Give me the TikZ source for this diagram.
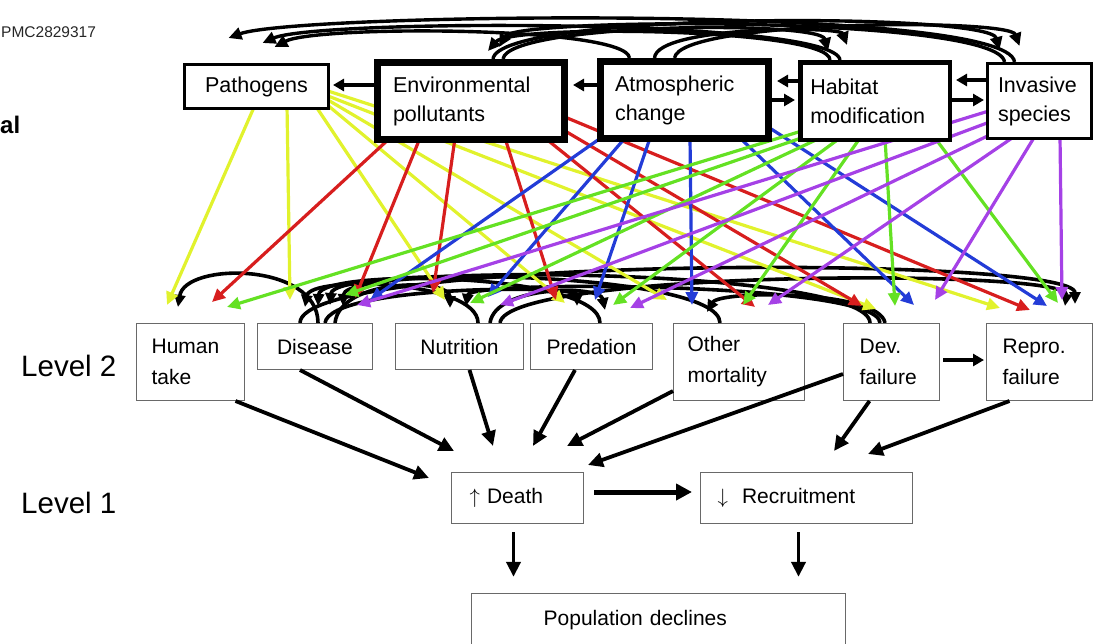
\documentclass[tikz,border=0pt]{standalone}
\usepackage{fontspec}
\setmainfont{Liberation Sans}
\usetikzlibrary{arrows.meta,calc}
\pgfdeclarelayer{links}
\pgfsetlayers{links,main}

\definecolor{cyel}{RGB}{225,242,45}
\definecolor{cred}{RGB}{215,30,30}
\definecolor{cblu}{RGB}{35,60,215}
\definecolor{cgrn}{RGB}{100,225,35}
\definecolor{cpur}{RGB}{165,65,230}
\definecolor{boxgray}{RGB}{105,105,105}

\begin{document}
\begin{tikzpicture}[x=1pt,y=-1pt,
  topbox/.style={draw=black, fill=white, inner sep=0pt, font=\fontsize{21.5}{29}\selectfont},
  lvbox/.style={draw=boxgray, line width=1.3pt, fill=white, inner sep=0pt, font=\fontsize{21}{31}\selectfont},
  feed/.style={line width=3.2pt, draw=#1, -{Triangle[length=13pt,width=12pt]}},
  crossarc/.style={line width=3.6pt, draw=black, -{Triangle[length=12pt,width=11pt]}},
  toparc/.style={line width=3.4pt, draw=black, -{Triangle[length=13pt,width=12pt]}},
  sidearrow/.style={line width=4pt, draw=black, -{Triangle[length=11pt,width=12pt]}},
  levelflow/.style={line width=3.8pt, draw=black, -{Triangle[length=15pt,width=14pt]}},
  lvlabel/.style={anchor=west, inner sep=0pt, font=\fontsize{29.5}{31}\selectfont}]

\useasboundingbox (0,0) rectangle (1106,643);

% margin texts
\node[anchor=west, inner sep=0pt, font=\fontsize{15.5}{17}\selectfont, text=black!85] (pmc) at (1,32) {PMC2829317};
\node[anchor=west, inner sep=0pt, font=\bfseries\fontsize{24}{26}\selectfont] (frag) at (0,125) {al};
\node[lvlabel] (lv2) at (21,366) {Level 2};
\node[lvlabel] (lv1) at (21,503) {Level 1};

% threats
\node[topbox, line width=3pt, minimum width=144pt, minimum height=44pt] (patho) at (256.5,86.5) {Pathogens};
\node[topbox, line width=7pt, minimum height=77pt, text width=156pt, inner xsep=15.5pt, align=left] (env) at (471,101) {Environmental\\pollutants};
\node[topbox, line width=7pt, minimum height=77pt, text width=139pt, inner xsep=14.5pt, align=left] (atm) at (684.5,100) {Atmospheric\\change};
\node[topbox, line width=4.5pt, minimum height=77.5pt, text width=129.5pt, inner xsep=10pt, align=left] (hab) at (875,101) {Habitat\\modification};
\node[topbox, line width=3pt, minimum height=75pt, text width=83pt, inner xsep=10.5pt, align=left] (inv) at (1039.5,101) {Invasive\\species};

% level 2
\node[lvbox, minimum height=76.7pt, text width=77.7pt, inner xsep=15pt, align=left] (hum) at (190.5,362) {Human\\take};
\node[lvbox, minimum width=114.7pt, minimum height=45.7pt] (dis) at (315,346.5) {Disease};
\node[lvbox, minimum width=127.7pt, minimum height=45.7pt] (nut) at (459.5,346.5) {Nutrition};
\node[lvbox, minimum width=121.7pt, minimum height=45.7pt] (pre) at (591.5,346.5) {Predation};
\node[lvbox, minimum height=76.7pt, text width=102.7pt, inner xsep=14pt, align=left] (oth) at (739,362) {Other\\mortality};
\node[lvbox, minimum height=76.7pt, text width=63.7pt, inner xsep=16pt, align=left] (dev) at (891.5,362) {Dev.\\failure};
\node[lvbox, minimum height=76.7pt, text width=73.7pt, inner xsep=16pt, align=left] (rep) at (1039.5,362) {Repro.\\failure};

% level 1 and outcome
\node[lvbox, minimum height=50.7pt, text width=95.7pt, inner xsep=18pt, align=left] (dea) at (517.5,498) {$\uparrow$ Death};
\node[lvbox, minimum height=50.7pt, text width=177.7pt, inner xsep=17pt, align=left] (rec) at (806.5,498) {$\downarrow$\ \ Recruitment};
\node[lvbox, minimum height=53pt, text width=229.7pt, inner xsep=72pt, align=left] (pop) at (658.5,620) {Population declines};

% arrows between the threats
\draw[sidearrow] ($(env.west)+(0,-16)$) -- ($(patho.east)+(3,-1.5)$);
\draw[sidearrow] ($(atm.west)+(0,-15)$) -- ($(env.east)+(5,-16)$);
\draw[sidearrow] ($(hab.west)+(0,-20)$) -- ($(atm.east)+(5,-19)$);
\draw[sidearrow] ($(atm.east)+(0,0)$) -- ($(hab.west)+(-3,-1)$);
\draw[sidearrow] ($(inv.west)+(0,-21)$) -- ($(hab.east)+(4,-21)$);
\draw[sidearrow] ($(hab.east)+(0,-1)$) -- ($(inv.west)+(-2,-1)$);

% level 2 -> level 1 -> outcome
\draw[levelflow] ($(hum.south)+(45,0)$) -- ($(dea.west)+(-22,-20)$);
\draw[levelflow] ($(dis.south)+(-15,0)$) -- ($(dea.north west)+(3,-21)$);
\draw[levelflow] ($(nut.south)+(10,0)$) -- ($(dea.north)+(-24.5,-26)$);
\draw[levelflow] ($(pre.south)+(-16.5,0)$) -- ($(dea.north)+(15.5,-26)$);
\draw[levelflow] ($(oth.south west)+(0,-10)$) -- ($(dea.north)+(49.5,-26)$);
\draw[levelflow] ($(dev.west)+(0,12)$) -- ($(dea.north east)+(4,-7)$);
\draw[levelflow] ($(dev.south)+(-22,0)$) -- ($(rec.north)+(27.5,-21)$);
\draw[levelflow] ($(rep.south)+(-30,0)$) -- ($(rec.north)+(61.5,-18)$);
\draw[levelflow, line width=5pt, -{Triangle[length=16pt,width=16pt]}] ($(dea.east)+(10,-6)$) -- ($(rec.west)+(-8,-6)$);
\draw[sidearrow] ($(dev.east)+(3,-2)$) -- ($(rep.west)+(-2,-2)$);
\coordinate (d1) at ($(dea.south)+(-4,8)$);
\coordinate (r1) at ($(rec.south)+(-8,8)$);
\coordinate (p1) at ($(pop.north)+(0,-16)$);
\draw[levelflow] (d1) -- (d1 |- p1);
\draw[levelflow] (r1) -- (r1 |- p1);

\begin{pgfonlayer}{links}
% links among the threats, above the top row
\draw[toparc] ($(inv.north)+(-25,0)$) .. controls ($(inv.north)+(-30,-58)$) and ($(patho.north)+(40,-50)$) .. ($(patho.north)+(-28,-25)$);
\draw[toparc] ($(hab.north)+(-35,0)$) .. controls ($(hab.north)+(-40,-42)$) and ($(patho.north)+(60,-44)$) .. ($(patho.north)+(6,-20)$);
\draw[toparc] ($(atm.north)+(-55,0)$) .. controls ($(atm.north)+(-58,-32)$) and ($(patho.north)+(60,-38)$) .. ($(patho.north)+(18,-16)$);
\draw[toparc] ($(hab.north)+(-45,0)$) .. controls ($(hab.north)+(-45,-32)$) and ($(env.north)+(40,-35)$) .. ($(env.north)+(17,-8)$);
\draw[toparc] ($(inv.north)+(-35,0)$) .. controls ($(inv.north)+(-40,-46)$) and ($(env.north)+(45,-42)$) .. ($(env.north)+(28,-12)$);
\draw[toparc] ($(env.north)+(32,0)$) .. controls ($(env.north)+(37,-36)$) and ($(hab.north)+(-55,-40)$) .. ($(hab.north)+(-47,-9)$);
\draw[toparc] ($(env.north)+(22,0)$) .. controls ($(env.north)+(27,-47)$) and ($(inv.north)+(-50,-50)$) .. ($(inv.north)+(-40,-12)$);
\draw[toparc] ($(atm.north)+(-10,0)$) .. controls ($(atm.north)+(-5,-38)$) and ($(inv.north)+(-30,-44)$) .. ($(inv.north)+(-20,-16)$);
\draw[toparc] ($(atm.north)+(-30,0)$) .. controls ($(atm.north)+(-28,-32)$) and ($(hab.north)+(-35,-34)$) .. ($(hab.north)+(-28,-15)$);

% links among the level 2 factors
\draw[crossarc] ($(dis.north)+(3,0)$) .. controls ($(dis.north)+(3,-61)$) and ($(hum.north)+(-5.5,-61)$) .. ($(hum.north)+(-12.5,-16)$);
\draw[crossarc] ($(nut.north)+(18.5,0)$) .. controls ($(nut.north)+(18.5,-43)$) and ($(dis.north)+(-5,-48)$) .. ($(dis.north)+(-10,-16)$);
\draw[crossarc] ($(pre.north)+(8.5,0)$) .. controls ($(pre.north)+(8.5,-51)$) and ($(dis.north)+(5,-55)$) .. ($(dis.north)+(3,-17)$);
\draw[crossarc] ($(oth.north)+(-19,0)$) .. controls ($(oth.north)+(-19,-53)$) and ($(dis.north)+(18,-58)$) .. ($(dis.north)+(15,-18)$);
\draw[crossarc] ($(dev.north)+(-21.5,0)$) .. controls ($(dev.north)+(-21.5,-55)$) and ($(dis.north)+(30,-61)$) .. ($(dis.north)+(28,-17)$);
\draw[crossarc] ($(dis.north)+(20,0)$) .. controls ($(dis.north)+(25,-45)$) and ($(nut.north)+(-9.5,-45)$) .. ($(nut.north)+(-9.5,-15)$);
\draw[crossarc] ($(dev.north)+(-11.5,0)$) .. controls ($(dev.north)+(-11.5,-41)$) and ($(nut.north)+(10.5,-43)$) .. ($(nut.north)+(6.5,-17)$);
\draw[crossarc] ($(nut.north)+(30.5,0)$) .. controls ($(nut.north)+(35.5,-38)$) and ($(pre.north)+(8.5,-38)$) .. ($(pre.north)+(13.5,-13)$);
\draw[crossarc] ($(dis.north)+(10,0)$) .. controls ($(dis.north)+(15,-38)$) and ($(pre.north)+(-14.5,-38)$) .. ($(pre.north)+(-14.5,-17)$);
\draw[crossarc] ($(dev.north)+(-6.5,0)$) .. controls ($(dev.north)+(-11.5,-33)$) and ($(oth.north)+(-19,-33)$) .. ($(oth.north)+(-32,-11)$);
\draw[crossarc] ($(dis.north)+(-15,0)$) .. controls ($(dis.north)+(-15,-68)$) and ($(rep.north)+(35.5,-68)$) .. ($(rep.north)+(35.5,-19)$);
\draw[crossarc] ($(nut.north)+(40.5,0)$) .. controls ($(nut.north)+(45.5,-53)$) and ($(rep.north)+(30.5,-55)$) .. ($(rep.north)+(25.5,-17)$);

% pathogens
\foreach \sx/\sy/\t/\tx/\ty in {-1.5/-5/hum/-23.5/-18, 30.5/-5/dis/-25/-23, 58.5/-5/nut/-14.5/-23,
    68.5/-7/pre/-26.5/-20, 71.5/-10/oth/-72/-23, 71.5/-14/dev/-15.5/-14, 71.5/-19/rep/-39.5/-15}
  \draw[feed=cyel] ($(patho.south)+(\sx,\sy)$) -- ($(\t.north)+(\tx,\ty)$);
% environmental pollutants
\foreach \sx/\sy/\t/\tx/\ty in {-81/-5/hum/21.5/-21, -51/-5/dis/40/-25, -16/-5/nut/-26.5/-30,
    34/-5/pre/-35.5/-23, 74/-5/oth/16/-16, 89/-15/dev/-29.5/-17, 89/-28/rep/-9.5/-13}
  \draw[feed=cred] ($(env.south)+(\sx,\sy)$) -- ($(\t.north)+(\tx,\ty)$);
% atmospheric change
\foreach \sx/\sy/\t/\tx/\ty in {-79.5/-7/dis/55/-23, -59.5/-4/nut/28.5/-26, -34.5/-4/pre/3.5/-23,
    5.5/-4/oth/-47/-18, 55.5/-4/dev/22.5/-18, 80.5/-17/rep/7.5/-17}
  \draw[feed=cblu] ($(atm.south)+(\sx,\sy)$) -- ($(\t.north)+(\tx,\ty)$);
% habitat modification
\foreach \sx/\sy/\t/\tx/\ty in {-70/-12/hum/36.5/-16, -65/-7/dis/30/-28, -55/-4/nut/10.5/-20,
    -35/-4/pre/21.5/-18, -15/-4/oth/4/-18, 10/-4/dev/3.5/-17, 60/-4/rep/18.5/-20}
  \draw[feed=cgrn] ($(hab.south)+(\sx,\sy)$) -- ($(\t.north)+(\tx,\ty)$);
% invasive species
\foreach \sx/\sy/\t/\tx/\ty in {-47.5/-30/dis/42/-18, -44.5/-20/nut/40.5/-18, -39.5/-10/pre/38.5/-15,
    -24.5/-4/oth/29/-18, -4.5/-4/dev/43.5/-23, 20.5/-4/rep/22.5/-23}
  \draw[feed=cpur] ($(inv.south)+(\sx,\sy)$) -- ($(\t.north)+(\tx,\ty)$);
\end{pgfonlayer}
\end{tikzpicture}
\end{document}
